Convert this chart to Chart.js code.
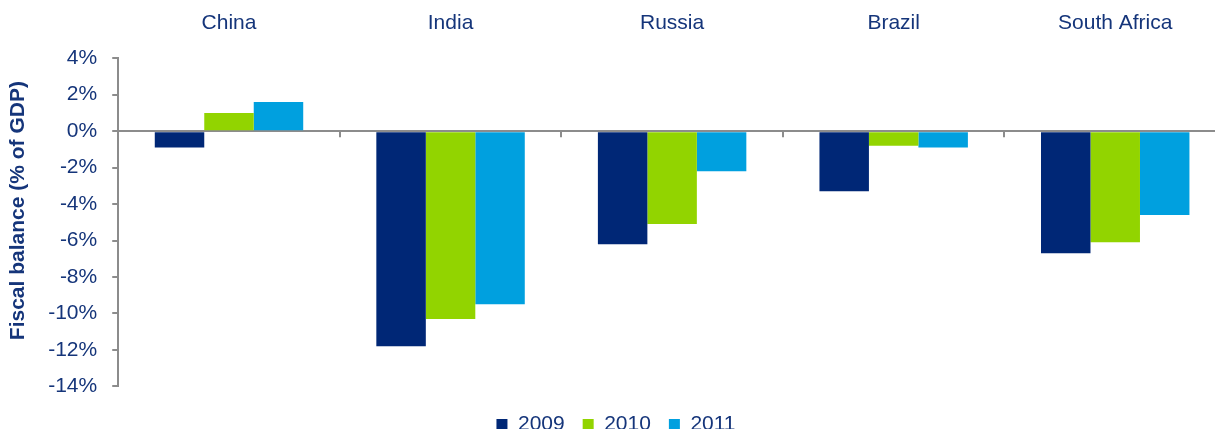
<!DOCTYPE html>
<html>
<head>
<meta charset="utf-8">
<script src="https://cdn.jsdelivr.net/npm/chart.js@4.4.1/dist/chart.umd.min.js"></script>
<style>
  html, body { margin: 0; padding: 0; background: #fff; overflow: hidden; }
  #wrap { position: relative; width: 1226px; height: 445px; }
</style>
</head>
<body>
<div id="wrap"><canvas id="fiscalChart"></canvas></div>
<script>
// Fiscal balance, % of GDP
const countries = ['China', 'India', 'Russia', 'Brazil', 'South Africa'];
const years = ['2009', '2010', '2011'];
const values2009 = [-0.9, -11.8, -6.2, -3.3, -6.7];
const values2010 = [1.0, -10.3, -5.1, -0.8, -6.1];
const values2011 = [1.6, -9.5, -2.2, -0.9, -4.6];
const yTicks = [4, 2, 0, -2, -4, -6, -8, -10, -12, -14];

const navy = '#15357a';
const axisGrey = '#8c8c8c';

// small tick marks on the zero line between the countries
const zeroTicks = {
    id: 'zeroTicks',
    afterDatasetsDraw(chart) {
        const x = chart.scales.x, y = chart.scales.y;
        const y0 = y.getPixelForValue(0);
        const ctx = chart.ctx;
        ctx.save();
        ctx.strokeStyle = axisGrey;
        ctx.lineWidth = 2;
        for (let i = 0; i < countries.length - 1; i++) {
            const xp = Math.round((x.getPixelForValue(i) + x.getPixelForValue(i + 1)) / 2);
            ctx.beginPath();
            ctx.moveTo(xp, y0);
            ctx.lineTo(xp, y0 + 6);
            ctx.stroke();
        }
        ctx.restore();
    }
};

Chart.defaults.font.family = '"Liberation Sans", Arial, sans-serif';
Chart.defaults.font.size = 21;
Chart.defaults.color = navy;

new Chart(document.getElementById('fiscalChart'), {
    type: 'bar',
    data: {
        labels: countries,
        datasets: [
            { label: years[0], data: values2009, backgroundColor: '#002776' },
            { label: years[1], data: values2010, backgroundColor: '#92d400' },
            { label: years[2], data: values2011, backgroundColor: '#00a0df' }
        ]
    },
    options: {
        responsive: true,
        maintainAspectRatio: false,
        animation: false,
        categoryPercentage: 0.67,
        barPercentage: 1.0,
        layout: { padding: { top: -3, left: 6, right: 0, bottom: 0 } },
        plugins: {
            legend: {
                position: 'bottom',
                title: { display: true, text: ' ', padding: 0, font: { size: 8 } },
                labels: {
                    boxWidth: 11,
                    boxHeight: 11,
                    padding: 18,
                    color: navy,
                    font: { size: 21 }
                }
            },
            tooltip: { enabled: false }
        },
        scales: {
            x: {
                position: 'top',
                grid: { display: false },
                border: { display: false },
                ticks: { color: navy, padding: 14, font: { size: 21 } }
            },
            y: {
                min: -14,
                max: 4,
                afterBuildTicks: axis => { axis.ticks = yTicks.map(v => ({ value: v })); },
                grid: {
                    drawOnChartArea: true,
                    color: c => (c.tick && c.tick.value === 0 ? axisGrey : 'rgba(0,0,0,0)'),
                    lineWidth: 2,
                    tickColor: axisGrey,
                    tickLength: 6
                },
                border: { display: true, color: axisGrey, width: 2 },
                ticks: {
                    color: navy,
                    padding: 15,
                    font: { size: 21 },
                    callback: v => v + '%'
                },
                title: {
                    display: true,
                    // leading spaces nudge the rotated title a bit upwards
                    text: '    Fiscal balance (% of GDP)',
                    color: navy,
                    font: { size: 21, weight: 'bold' },
                    padding: { top: 0, bottom: 2 }
                }
            }
        }
    },
    plugins: [zeroTicks]
});
</script>
</body>
</html>
